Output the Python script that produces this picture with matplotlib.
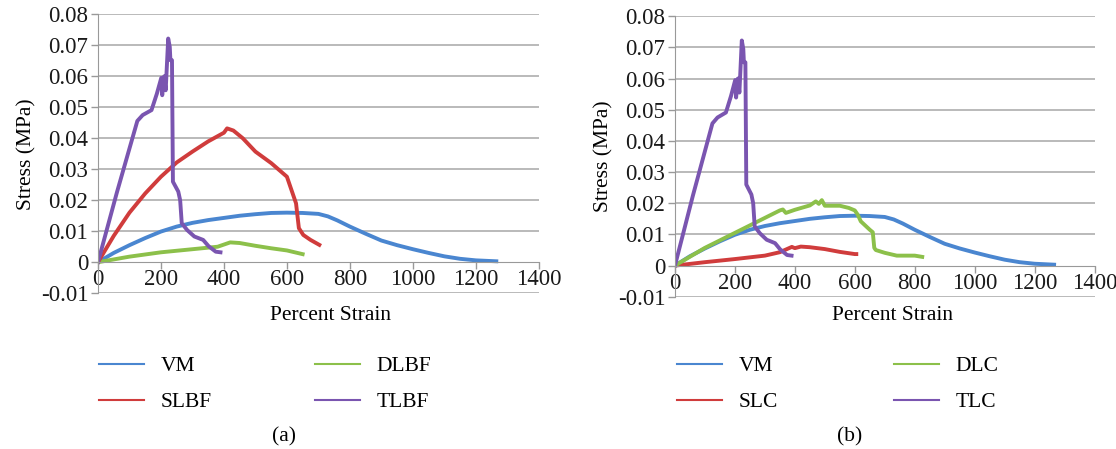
import matplotlib
matplotlib.use('Agg')
import matplotlib.pyplot as plt
from matplotlib.lines import Line2D

plt.rcParams['font.family'] = ['Liberation Serif', 'DejaVu Serif']

# VM (same in both panels)
vm_x = [0, 50, 100, 150, 200, 250, 300, 350, 400, 450, 500, 550, 600, 650, 700, 730,
        760, 800, 850, 900, 950, 1000, 1050, 1100, 1150, 1200, 1265]
vm_y = [0, 0.0030, 0.0055, 0.0078, 0.0099, 0.0115, 0.0127, 0.0136, 0.0143, 0.0150, 0.0155,
        0.0159, 0.0160, 0.0159, 0.0156, 0.0148, 0.0135, 0.0115, 0.0092, 0.0070, 0.0055,
        0.0042, 0.0030, 0.0019, 0.0011, 0.0006, 0.0003]

# TLBF / TLC (same curve in both panels)
tl_x = [0, 60, 125, 142, 170, 187, 201, 204, 210, 215, 223, 228, 230, 235, 238, 255,
        261, 266, 283, 306, 334, 351, 374, 389]
tl_y = [0, 0.0225, 0.0456, 0.0475, 0.0491, 0.0544, 0.0595, 0.0539, 0.0600, 0.0555,
        0.0722, 0.0695, 0.0652, 0.0652, 0.0260, 0.0228, 0.0200, 0.0126, 0.0104, 0.0083,
        0.0072, 0.0052, 0.0034, 0.0032]

# panel (a)
slbf_x = [0, 50, 100, 150, 200, 250, 300, 350, 400, 410, 430, 460, 500, 550, 600, 629,
          638, 652, 675, 703]
slbf_y = [0, 0.0085, 0.0160, 0.0222, 0.0276, 0.0322, 0.0357, 0.0390, 0.0418, 0.0432,
          0.0425, 0.0400, 0.0357, 0.0320, 0.0276, 0.0190, 0.0110, 0.0088, 0.0072, 0.0056]
dlbf_x = [0, 100, 200, 300, 380, 420, 450, 500, 550, 600, 650]
dlbf_y = [0, 0.0018, 0.0032, 0.0042, 0.0050, 0.0064, 0.0062, 0.0053, 0.0045, 0.0038, 0.0026]

# panel (b)
slc_x = [0, 100, 200, 300, 350, 390, 400, 420, 450, 500, 550, 600, 605]
slc_y = [0, 0.0011, 0.0021, 0.0032, 0.0043, 0.0060, 0.0056, 0.0061, 0.0059, 0.0053,
         0.0044, 0.0037, 0.0037]
dlc_x = [0, 100, 200, 300, 350, 360, 370, 400, 450, 470, 480, 490, 500, 550, 580, 600,
         610, 620, 650, 660, 665, 670, 700, 740, 800, 825]
dlc_y = [0, 0.0057, 0.0105, 0.0153, 0.0177, 0.0180, 0.0169, 0.0179, 0.0193, 0.0206,
         0.0198, 0.0210, 0.0192, 0.0192, 0.0185, 0.0177, 0.0163, 0.0142, 0.0115, 0.0107,
         0.0057, 0.0050, 0.0041, 0.0032, 0.0032, 0.0028]

x_ticks = [0, 200, 400, 600, 800, 1000, 1200, 1400]
y_ticks = [-0.01, 0, 0.01, 0.02, 0.03, 0.04, 0.05, 0.06, 0.07, 0.08]
y_labels = ['-0.01', '0', '0.01', '0.02', '0.03', '0.04', '0.05', '0.06', '0.07', '0.08']

blue = '#4a86d0'
red = '#d03c3c'
green = '#8cc04a'
purple = '#7a55b0'
grid = '#b4b4b4'

fig = plt.figure(figsize=(11.16, 4.49), dpi=100)
ax1 = fig.add_axes([0.0878, 0.347, 0.395, 0.621])
ax2 = fig.add_axes([0.6048, 0.339, 0.376, 0.625])


def style(ax):
    ax.set_xlim(0, 1400)
    ax.set_ylim(-0.01, 0.08)
    for yv in y_ticks:
        if yv != 0:
            ax.axhline(yv, color=grid, lw=1.3, zorder=0)
    for s in ['top', 'right']:
        ax.spines[s].set_visible(False)
    ax.spines['bottom'].set_position(('data', 0))
    ax.spines['bottom'].set_color('#999999')
    ax.spines['left'].set_color('#999999')
    ax.set_xticks(x_ticks)
    ax.set_yticks(y_ticks)
    ax.set_yticklabels(y_labels)
    ax.tick_params(axis='both', labelsize=16.5, colors='#999999', labelcolor='#1a1a1a',
                   length=5, width=1)
    ax.tick_params(axis='x', pad=0)
    ax.tick_params(axis='y', pad=2)
    ax.set_ylabel('Stress (MPa)', fontsize=15.5, labelpad=3)


style(ax1)
ax1.plot(vm_x, vm_y, color=blue, lw=2.8)
ax1.plot(dlbf_x, dlbf_y, color=green, lw=2.8)
ax1.plot(slbf_x, slbf_y, color=red, lw=2.8)
ax1.plot(tl_x, tl_y, color=purple, lw=2.8)

style(ax2)
ax2.plot(vm_x, vm_y, color=blue, lw=2.8)
ax2.plot(slc_x, slc_y, color=red, lw=2.8)
ax2.plot(dlc_x, dlc_y, color=green, lw=2.8)
ax2.plot(tl_x, tl_y, color=purple, lw=2.8)

fig.text(330 / 1116, 1 - 315 / 449, 'Percent Strain', fontsize=15.5, ha='center', va='center')
fig.text(893 / 1116, 1 - 315 / 449, 'Percent Strain', fontsize=15.5, ha='center', va='center')
fig.text(284 / 1116, 1 - 437 / 449, '(a)', fontsize=15.5, ha='center', va='center')
fig.text(850 / 1116, 1 - 437 / 449, '(b)', fontsize=15.5, ha='center', va='center')


def legend(labels, colors, x0, spacing):
    handles = [Line2D([], [], color=c, lw=1.5) for c in colors]
    fig.legend(handles, labels, ncol=2, frameon=False, fontsize=15.5,
               loc='upper left', bbox_to_anchor=(x0 / 1116, 1 - 356 / 449),
               borderpad=0, borderaxespad=0, handlelength=2.1, handletextpad=0.75,
               columnspacing=spacing, labelspacing=0.75)


legend(['VM', 'SLBF', 'DLBF', 'TLBF'], [blue, red, green, purple], 99, 4.8)
legend(['VM', 'SLC', 'DLC', 'TLC'], [blue, red, green, purple], 677, 5.4)

fig.savefig('out.png', dpi=100)
